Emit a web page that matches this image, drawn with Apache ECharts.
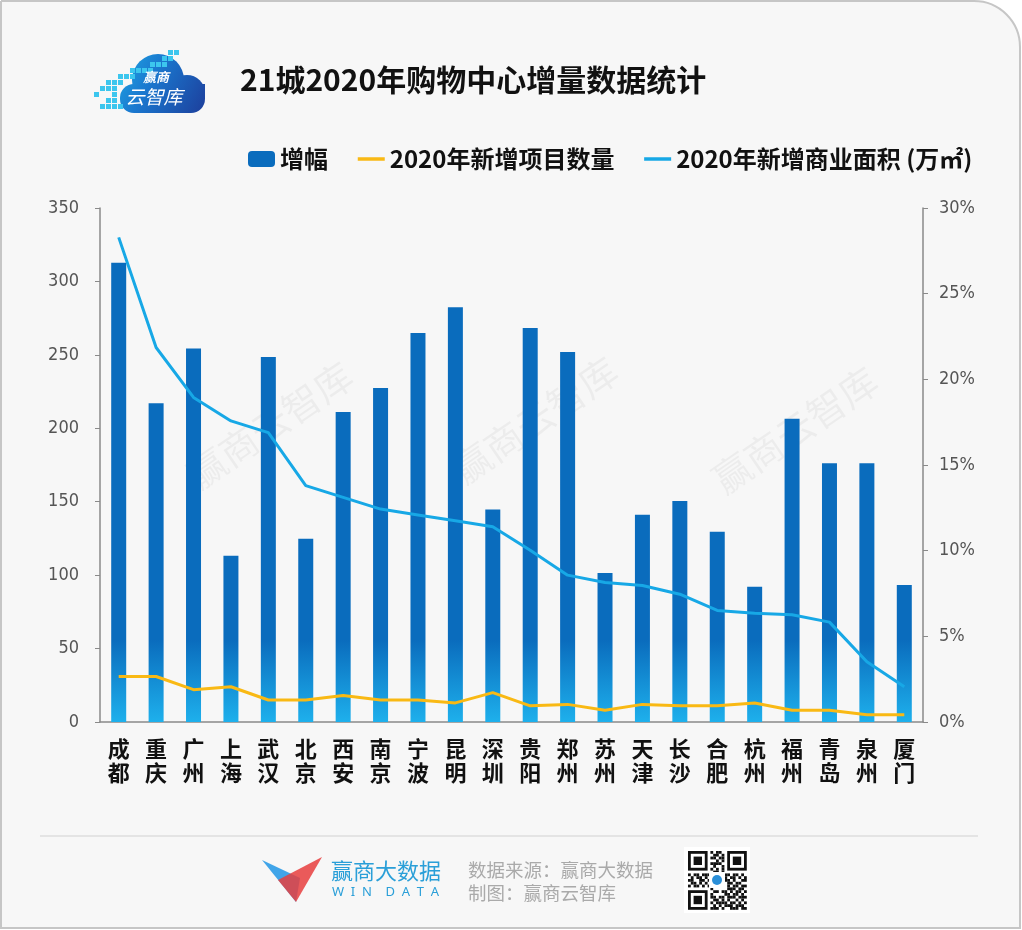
<!DOCTYPE html>
<html>
<head>
<meta charset="utf-8">
<script src="https://cdn.jsdelivr.net/npm/echarts@6/dist/echarts.min.js"></script>
<style>
  html, body { margin: 0; padding: 0; background: #fff; }
  #chart { width: 1022px; height: 930px; }
</style>
</head>
<body>
<div id="chart"></div>
<script>
// == Data ==================================================================
const cities = ['成都', '重庆', '广州', '上海', '武汉', '北京', '西安', '南京', '宁波', '昆明', '深圳',
  '贵阳', '郑州', '苏州', '天津', '长沙', '合肥', '杭州', '福州', '青岛', '泉州', '厦门']
// 增幅 (%)
const growth = [26.8, 18.6, 21.8, 9.7, 21.3, 10.7, 18.1, 19.5, 22.7, 24.2, 12.4,
  23.0, 21.6, 8.7, 12.1, 12.9, 11.1, 7.9, 17.7, 15.1, 15.1, 8.0]
// 2020年新增项目数量
const projects = [31, 31, 22, 24, 15, 15, 18, 15, 15, 13, 20,
  11, 12, 8, 12, 11, 11, 13, 8, 8, 5, 5]
// 2020年新增商业面积 (万㎡)
const area = [330, 255, 221, 205, 197, 161, 153, 145, 141, 137, 133,
  117, 100, 95, 93, 87, 76, 74, 73, 68, 41, 24]

const leftTicks = { min: 0, max: 350, interval: 50 }
const rightTicks = { min: 0, max: 30, interval: 5 }

const seriesNames = ['增幅', '2020年新增项目数量', '2020年新增商业面积 (万㎡)']

// == Decoration helpers ====================================================
const CJK = '"Noto Sans CJK SC", "Noto Sans", sans-serif'

function watermark (x, y) {
  return {
    type: 'text', x: x, y: y, rotation: 0.6, z: 0, silent: true,
    style: {
      text: '赢商云智库', fill: 'rgba(0,0,0,0.045)', font: '38px ' + CJK,
      align: 'center', verticalAlign: 'middle'
    }
  }
}

// cloud logo
const cloudFill = {
  type: 'linear', x: 95, y: 50, x2: 205, y2: 112, global: true,
  colorStops: [{ offset: 0, color: '#22c4f0' }, { offset: 0.5, color: '#1a78cf' }, { offset: 1, color: '#1d3f9c' }]
}
const pixels = [
  [168, 50], [174, 50], [162, 56], [168, 56], [150, 62], [156, 62], [162, 62],
  [130, 68], [136, 68], [142, 68], [148, 68], [118, 74], [124, 74], [130, 74],
  [106, 80], [112, 80], [118, 80], [100, 86], [106, 86], [112, 86], [94, 92], [112, 92],
  [106, 98], [112, 98], [100, 104], [106, 104], [112, 104], [118, 104]
]
const logo = [
  { type: 'circle', shape: { cx: 158, cy: 80, r: 26 }, style: { fill: cloudFill } },
  { type: 'circle', shape: { cx: 187, cy: 93, r: 18 }, style: { fill: cloudFill } },
  { type: 'rect', shape: { x: 120, y: 84, width: 85, height: 29, r: [14, 0, 14, 14] }, style: { fill: cloudFill } }
].concat(pixels.map(p => ({
  type: 'rect', shape: { x: p[0], y: p[1], width: 5, height: 5 }, style: { fill: '#3cc6ee' }
}))).concat([
  { type: 'text', x: 156, y: 77, style: { text: '赢商', fill: '#fff', font: 'italic bold 13px ' + CJK, align: 'center', verticalAlign: 'middle' } },
  { type: 'text', x: 154, y: 97, style: { text: '云智库', fill: '#fff', font: 'italic 19px ' + CJK, align: 'center', verticalAlign: 'middle' } }
])

// footer QR code look-alike
const qrRows = [
  '000000001011000000000', '000000000110100000000', '000000001101100000000',
  '000000000010100000000', '000000001111000000000', '000000000100100000000',
  '000000001010100000000', '000000000110100000000', '101101110010111011010',
  '010110101101010110101', '110011011000011010011', '011010100111101101100',
  '101101010000001011011', '000000001000001110110', '000000000110110101101',
  '000000001000011011010', '000000001101101110111', '000000000110101001010',
  '000000001011110110101', '000000000101011101110', '000000001110100111011'
]
const qr = [{ type: 'rect', shape: { x: 684, y: 847, width: 66, height: 66 }, style: { fill: '#fff' } }]
const mod = 2.8, qx = 688, qy = 851
qrRows.forEach((row, r) => {
  row.split('').forEach((c, k) => {
    if (c === '1') qr.push({ type: 'rect', shape: { x: qx + k * mod, y: qy + r * mod, width: mod, height: mod }, style: { fill: '#111' } })
  })
})
;[[0, 0], [14, 0], [0, 14]].forEach(f => {
  const x = qx + f[0] * mod, y = qy + f[1] * mod
  qr.push({ type: 'rect', shape: { x: x, y: y, width: 7 * mod, height: 7 * mod }, style: { fill: '#111' } })
  qr.push({ type: 'rect', shape: { x: x + mod, y: y + mod, width: 5 * mod, height: 5 * mod }, style: { fill: '#fff' } })
  qr.push({ type: 'rect', shape: { x: x + 2 * mod, y: y + 2 * mod, width: 3 * mod, height: 3 * mod }, style: { fill: '#111' } })
})
qr.push({ type: 'rect', shape: { x: 709, y: 872, width: 16, height: 16 }, style: { fill: '#fff' } })
qr.push({ type: 'circle', shape: { cx: 717, cy: 880, r: 5 }, style: { fill: '#2a8fd8' } })

const footer = [
  { type: 'line', shape: { x1: 40, y1: 836, x2: 978, y2: 836 }, style: { stroke: '#e4e4e4', lineWidth: 2 } },
  { type: 'polygon', shape: { points: [[262, 860], [300, 878], [296, 902]] }, style: { fill: 'rgba(33,150,230,0.85)' } },
  { type: 'polygon', shape: { points: [[322, 857], [296, 902], [278, 880]] }, style: { fill: 'rgba(232,62,62,0.85)' } },
  { type: 'text', x: 331, y: 871, style: { text: '赢商大数据', fill: '#2a9fd8', font: '22px ' + CJK, verticalAlign: 'middle' } },
  { type: 'text', x: 332, y: 892, style: { text: 'W  I  N    D  A  T  A', fill: '#2a9fd8', font: '13px "Noto Sans", sans-serif', verticalAlign: 'middle' } },
  { type: 'text', x: 468, y: 870, style: { text: '数据来源：赢商大数据', fill: '#aaaaaa', font: '18.5px ' + CJK, verticalAlign: 'middle' } },
  { type: 'text', x: 468, y: 893, style: { text: '制图：赢商云智库', fill: '#aaaaaa', font: '18.5px ' + CJK, verticalAlign: 'middle' } }
].concat(qr)

// == Chart =================================================================
const myChart = echarts.init(document.getElementById('chart'))

const barFill = {
  type: 'linear', x: 0, y: 640, x2: 0, y2: 722, global: true,
  colorStops: [{ offset: 0, color: '#0a6cbd' }, { offset: 1, color: '#1eb0ec' }]
}

const axisText = { color: '#555', fontFamily: '"Liberation Sans Narrow", "DejaVu Sans Condensed", sans-serif', fontSize: 18 }

// line legend items: hide the symbol, keep a thick line
const noSymbol = { color: 'rgba(0,0,0,0)', borderWidth: 0 }

myChart.setOption({
  animation: false,
  backgroundColor: '#fff',
  graphic: [
    { type: 'rect', z: -10, shape: { x: 1, y: 1, width: 1019, height: 927, r: [0, 46, 0, 0] }, style: { fill: '#f7f7f7', stroke: '#c6c6c6', lineWidth: 2 } },
    watermark(270, 425), watermark(535, 420), watermark(795, 430),
    { type: 'text', x: 240, y: 80, style: { text: '21城2020年购物中心增量数据统计', fill: '#111', font: 'bold 30px ' + CJK, verticalAlign: 'middle' } },
    { type: 'group', children: logo },
    { type: 'group', children: footer }
  ],
  legend: {
    data: [
      { name: seriesNames[0] },
      { name: seriesNames[1], itemStyle: noSymbol, lineStyle: { width: 3.5 } },
      { name: seriesNames[2], itemStyle: noSymbol, lineStyle: { width: 3.5 } }
    ],
    left: 243,
    top: 142,
    itemWidth: 27,
    itemHeight: 16,
    itemGap: 28,
    textStyle: { fontFamily: CJK, fontSize: 24, fontWeight: 'bold', color: '#111' }
  },
  grid: { left: 100, right: 99, top: 208, bottom: 208 },
  xAxis: {
    type: 'category',
    data: cities,
    axisLine: { lineStyle: { color: '#8a8a8a', width: 1.5 } },
    axisTick: { length: 6, lineStyle: { color: '#8a8a8a' } },
    axisLabel: {
      interval: 0, margin: 15, color: '#111', fontFamily: CJK, fontSize: 22, fontWeight: 'bold', lineHeight: 24,
      formatter: v => v.split('').join('\n')
    }
  },
  yAxis: [
    {
      type: 'value', ...leftTicks,
      splitLine: { show: false },
      axisLine: { show: true, lineStyle: { color: '#8a8a8a', width: 1.5 } },
      axisTick: { show: true, length: 5, lineStyle: { color: '#8a8a8a' } },
      axisLabel: { ...axisText, margin: 21 }
    },
    {
      type: 'value', ...rightTicks,
      splitLine: { show: false },
      axisLine: { show: true, lineStyle: { color: '#8a8a8a', width: 1.5 } },
      axisTick: { show: true, length: 5, lineStyle: { color: '#8a8a8a' } },
      axisLabel: { ...axisText, margin: 16, formatter: '{value}%' }
    }
  ],
  series: [
    {
      name: seriesNames[0], type: 'bar', yAxisIndex: 1, data: growth, barWidth: 15,
      itemStyle: { color: barFill }
    },
    {
      name: seriesNames[1], type: 'line', yAxisIndex: 0, data: projects, symbol: 'none',
      itemStyle: { color: '#f9b914' }, lineStyle: { color: '#f9b914', width: 3 }, z: 3
    },
    {
      name: seriesNames[2], type: 'line', yAxisIndex: 0, data: area, symbol: 'none',
      itemStyle: { color: '#17a8e6' }, lineStyle: { color: '#17a8e6', width: 3 }, z: 4
    }
  ]
})
</script>
</body>
</html>
